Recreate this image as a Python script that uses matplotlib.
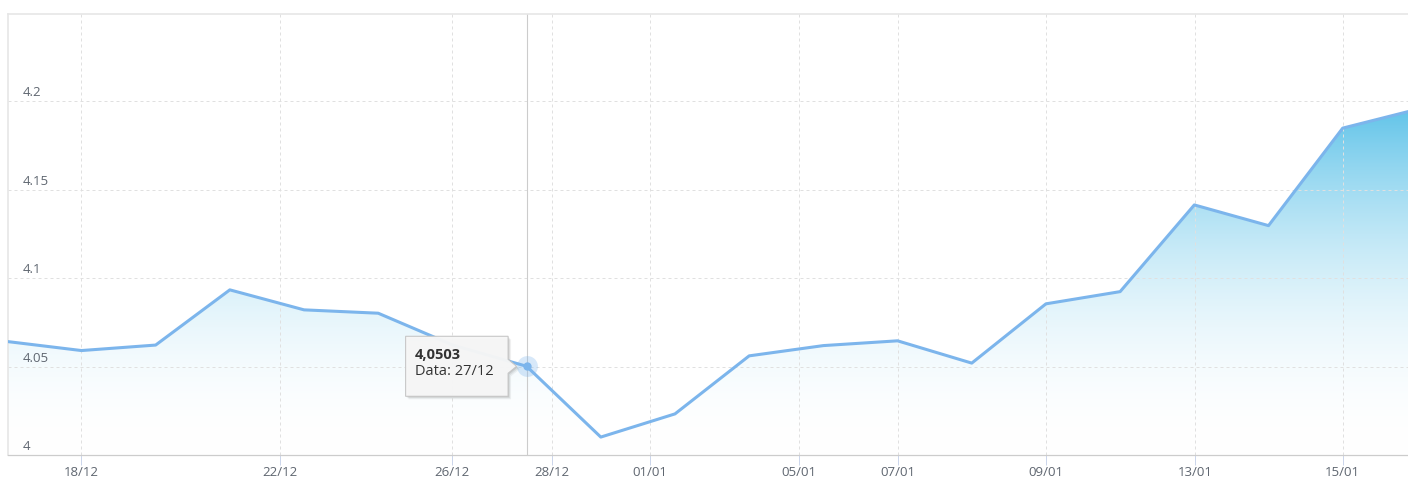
import numpy as np
import matplotlib
matplotlib.use("Agg")
import matplotlib.pyplot as plt
from matplotlib import transforms
from matplotlib.patches import Polygon

# ---------------- data ----------------
point_pos = [-1, 0, 1, 2, 3, 4, 5, 6, 7, 8, 9, 10, 11, 12, 13, 14, 15, 16, 17, 18]
values = [4.0643, 4.0592, 4.0623, 4.0935, 4.0822, 4.0803, 4.0624, 4.0503,
          4.0103, 4.0234, 4.0562, 4.0620, 4.0647, 4.0521, 4.0856, 4.0925,
          4.1415, 4.1298, 4.1849, 4.1955]
xtick_pos = [0, 2.673, 5.0, 6.336, 7.66, 9.674, 11.0, 13.0, 15.01, 17.0]
xtick_labels = ['18/12', '22/12', '26/12', '28/12', '01/01', '05/01',
                '07/01', '09/01', '13/01', '15/01']
ytick_vals = [4.0, 4.05, 4.1, 4.15, 4.2]
ytick_labels = ['4', '4.05', '4.1', '4.15', '4.2']
hover_index = 7
hover_date = '27/12'

# ---------------- style ----------------
plt.rcParams['font.family'] = ['Open Sans', 'DejaVu Sans']
LINE = '#7cb5ec'
LABEL = '#5f6670'
XLIM = (-0.99, 17.88)
YLIM = (4.0, 4.2494)

fig = plt.figure(figsize=(14.08, 4.8), dpi=100)
fig.patch.set_facecolor('white')
ax = fig.add_axes([8 / 1408, (480 - 455.3) / 480, 1400 / 1408, (455.3 - 14) / 480])

# gradient area fill
ymax = max(values)
n = 300
t = np.linspace(0, 1, n)
blend = 1 - (1 - t) ** 2
c0 = np.array([98, 196, 233]) / 255.0
rgb = c0[None, :] + (1 - c0[None, :]) * blend[:, None]
img = rgb[:, None, :]
im = ax.imshow(img, extent=[XLIM[0], XLIM[1], YLIM[0], ymax], aspect='auto',
               origin='upper', zorder=1, interpolation='bilinear')
poly = ax.fill_between(point_pos, values, YLIM[0], facecolor='none',
                       edgecolor='none', zorder=1)
im.set_clip_path(poly.get_paths()[0], transform=ax.transData)

# line
ax.plot(point_pos, values, color=LINE, lw=2.2, solid_joinstyle='round',
        solid_capstyle='round', zorder=3)

ax.set_xlim(*XLIM)
ax.set_ylim(*YLIM)

# grid & ticks
ax.set_axisbelow('line')
ax.set_xticks(xtick_pos, xtick_labels)
ax.set_yticks(ytick_vals)
ax.set_yticklabels([])
ax.tick_params(axis='y', length=0)
ax.tick_params(axis='x', length=7.2, width=0.72, color='#ccd6eb', pad=0.8,
               labelsize=9.5, labelcolor=LABEL)
ax.grid(True, color='#e0e0e0', lw=0.72, linestyle=(0, (3, 3)))

for sp in ['top', 'left']:
    ax.spines[sp].set_color('#e6e6e6')
    ax.spines[sp].set_linewidth(1.2)
ax.spines['bottom'].set_color('#cccccc')
ax.spines['bottom'].set_linewidth(0.9)
ax.spines['right'].set_visible(False)

# y labels inside the plot
for v, lab in zip(ytick_vals, ytick_labels):
    ax.annotate(lab, xy=(0, v), xycoords=ax.get_yaxis_transform(),
                xytext=(10.8, 3.8), textcoords='offset points',
                ha='left', va='baseline', fontsize=9.5, color=LABEL, zorder=4)

# hover state
hx = point_pos[hover_index]
hy = values[hover_index]
ax.axvline(hx, color='#cccccc', lw=0.8, zorder=2.5)
ax.plot([hx], [hy], 'o', ms=15, color=LINE, alpha=0.3, mec='none', zorder=4)
ax.plot([hx], [hy], 'o', ms=6, color=LINE, mec='none', zorder=4.5)

# tooltip (offsets in inches relative to hovered point)
trans = fig.dpi_scale_trans + transforms.ScaledTranslation(hx, hy, ax.transData)
L, R, B, T = -1.21, -0.185, -0.30, 0.30
shape = [(L, B), (L, T), (R, T), (R, 0.07), (R + 0.085, 0.0), (R, -0.07), (R, B)]
for k, a in [(0.03, 0.05), (0.02, 0.07), (0.01, 0.09)]:
    sh = Polygon([(x + k, y - k) for x, y in shape], closed=True, transform=trans,
                 fc='black', ec='none', alpha=a, zorder=5)
    ax.add_patch(sh)
tip = Polygon(shape, closed=True, transform=trans, fc='#f7f7f7', ec='#c6c6c6',
              lw=0.8, alpha=0.97, zorder=5.5)
ax.add_patch(tip)
val_text = f"{hy:.4f}".replace('.', ',')
ax.text(-1.12, 0.115, val_text, transform=trans, ha='left', va='center',
        fontsize=10.5, fontweight='bold', color='#333333', zorder=6)
ax.text(-1.12, -0.05, f"Data: {hover_date}", transform=trans, ha='left',
        va='center', fontsize=10.5, color='#333333', zorder=6)

fig.savefig('out.png', dpi=100, facecolor='white')
